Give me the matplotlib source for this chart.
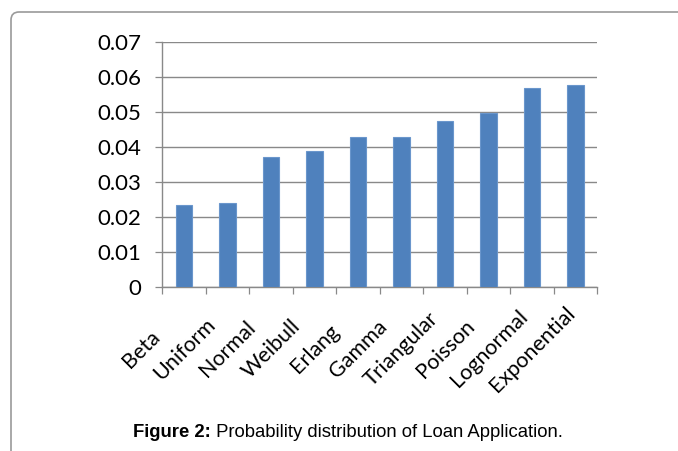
import matplotlib.pyplot as plt
from matplotlib.patches import FancyBboxPatch
from matplotlib.transforms import offset_copy

categories = ['Beta', 'Uniform', 'Normal', 'Weibull', 'Erlang', 'Gamma',
              'Triangular', 'Poisson', 'Lognormal', 'Exponential']
values = [0.0234, 0.0239, 0.0371, 0.0388, 0.0428, 0.0428,
          0.0473, 0.0496, 0.0568, 0.0577]
yticks = [0, 0.01, 0.02, 0.03, 0.04, 0.05, 0.06, 0.07]
ytick_labels = ['0', '0.01', '0.02', '0.03', '0.04', '0.05', '0.06', '0.07']
caption_bold = 'Figure 2:'
caption_rest = ' Probability distribution of Loan Application.'

grey = '#898989'
fig = plt.figure(figsize=(6.78, 4.51), dpi=100)
ax = fig.add_axes([0.239, 0.3636, 0.6416, 0.5433])

x = list(range(len(categories)))
ax.bar(x, values, width=0.38, color='#4F81BD', edgecolor='#6A96CC', linewidth=0.8, zorder=3)

ax.set_xlim(-0.5, len(categories) - 0.5)
ax.set_ylim(0, 0.07)
ax.set_yticks(yticks)
ax.set_yticklabels(ytick_labels, fontfamily='Lato', fontsize=16)
ax.yaxis.grid(True, color=grey, linewidth=1.0, zorder=0)
ax.tick_params(axis='y', length=5, width=0.9, color=grey, pad=10)

# tick marks at category boundaries, labels placed separately
ax.set_xticks([i - 0.5 for i in range(len(categories) + 1)])
ax.set_xticklabels([])
ax.tick_params(axis='x', length=5, width=0.9, color=grey)

for s in ['top', 'right']:
    ax.spines[s].set_visible(False)
for s in ['left', 'bottom']:
    ax.spines[s].set_color(grey)
    ax.spines[s].set_linewidth(1.0)

trans = ax.get_xaxis_transform()
for i, name in enumerate(categories):
    t = offset_copy(trans, fig=fig, x=-43, y=-62, units='dots')
    ax.text(i, 0, name, transform=t, rotation=45, rotation_mode='anchor',
            ha='center', va='center', fontfamily='Lato', fontsize=15.5)

t1 = fig.text(0.196, 0.042, caption_bold, ha='left', va='center', fontsize=13.3,
              fontfamily='Liberation Sans', fontweight='bold')
ax.annotate(caption_rest, xy=(1, 0), xycoords=t1, ha='left', va='bottom',
            fontsize=13.3, fontfamily='Liberation Sans', annotation_clip=False)

frame = FancyBboxPatch((11, -30), 700, 451 - 12 + 30, boxstyle='round,pad=0,rounding_size=8',
                       transform=None, facecolor='none', edgecolor='#9a9a9a', linewidth=1.2)
fig.patches.append(frame)

fig.savefig('out.png', dpi=100)
